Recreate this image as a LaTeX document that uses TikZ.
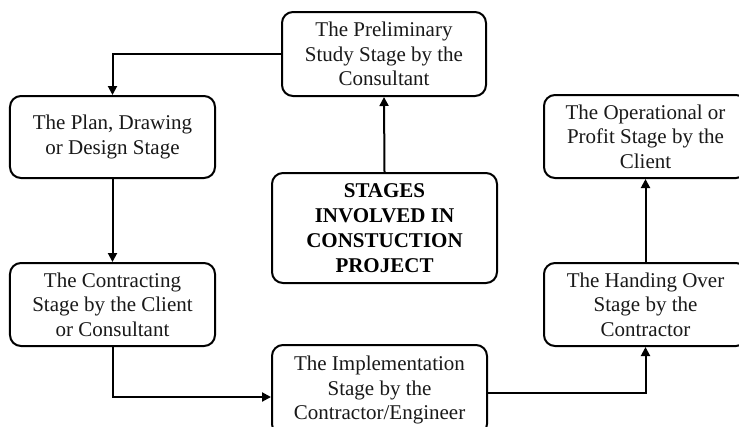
\documentclass[tikz,border=0pt]{standalone}
\usepackage{fontspec}
\setmainfont{Liberation Serif}
\usetikzlibrary{arrows.meta}
\begin{document}
\begin{tikzpicture}[x=1bp,y=-1bp,
  stagebox/.style={draw=black, line width=2bp, rounded corners=11bp, inner sep=0pt,
    align=center, font=\fontsize{21bp}{24.5bp}\selectfont, text=black!90},
  conn/.style={draw=black, line width=2bp, -{Triangle[length=9bp,width=9bp]}}]
\useasboundingbox (0,0) rectangle (739,426);
\clip (0,0) rectangle (739,426);
\fill[white] (0,0) rectangle (739,426);
\node[stagebox, minimum width=204bp, minimum height=84bp] (prelim) at (384,54) {The Preliminary\\Study Stage by the\\Consultant};
\node[stagebox, minimum width=205bp, minimum height=82bp] (plan) at (112.5,137) {The Plan, Drawing\\or Design Stage};
\node[stagebox, minimum width=205bp, minimum height=83bp] (contract) at (112.5,304.5) {The Contracting\\Stage by the Client\\or Consultant};
\node[stagebox, minimum width=225bp, minimum height=110bp, font=\fontsize{21bp}{25bp}\selectfont\bfseries, text=black] (center) at (384.5,228) {STAGES\\INVOLVED IN\\CONSTUCTION\\PROJECT};
\node[stagebox, minimum width=215bp, minimum height=90bp] (impl) at (379.5,390) {The Implementation\\Stage by the\\Contractor/Engineer};
\node[stagebox, minimum width=203bp, minimum height=83bp] (hand) at (645.5,304.5) {The Handing Over\\Stage by the\\Contractor};
\node[stagebox, minimum width=203bp, minimum height=83bp] (oper) at (645.5,136.5) {The Operational or\\Profit Stage by the\\Client};
\draw[conn] (prelim.west) -| (plan.north);
\draw[conn] (plan.south) -- (contract.north);
\draw[conn] (contract.south) |- ([yshift=-7bp]impl.west);
\draw[conn] ([yshift=-3bp]impl.east) -| (hand.south);
\draw[conn] (hand.north) -- (oper.south);
\draw[conn] (center.north) -- (prelim.south);
\end{tikzpicture}
\end{document}
